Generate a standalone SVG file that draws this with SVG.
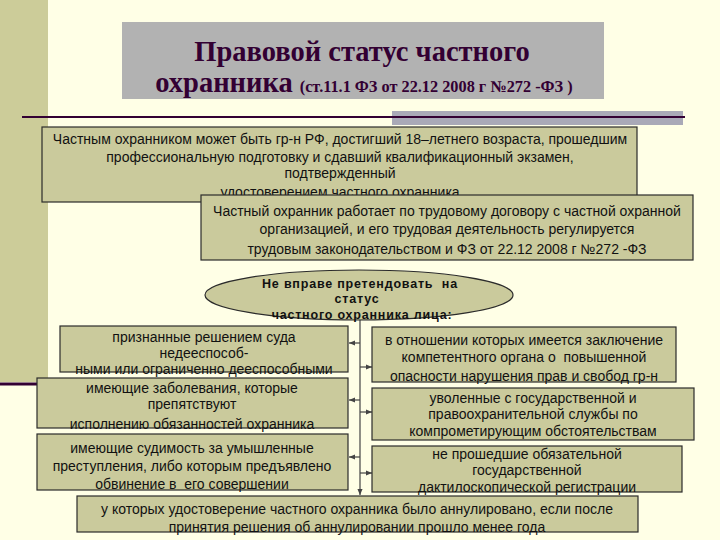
<svg xmlns="http://www.w3.org/2000/svg" width="720" height="540" viewBox="0 0 720 540">
<defs>
<style>
.bg{fill:#FFFFE6}
.band{fill:#CCCC99}
.box{fill:#CACA9C;stroke:#2b2b2b;stroke-width:1.2}
.t{font-family:"Liberation Sans",Arial,sans-serif;font-size:14px;fill:#111;text-anchor:middle}
.e{font-family:"Liberation Sans",Arial,sans-serif;font-size:12.5px;font-weight:bold;letter-spacing:0.8px;fill:#111;text-anchor:middle}
.ttl{font-family:"Liberation Serif","Times New Roman",serif;font-weight:bold;fill:#330033;text-anchor:middle}
.c{stroke:#444;stroke-width:1.2;fill:none}
</style>
<marker id="ah" viewBox="0 0 8 8" refX="7" refY="4" markerWidth="6" markerHeight="6" orient="auto">
<path d="M0,1 L7,4 L0,7 Z" fill="#444"/>
</marker>
</defs>
<rect class="bg" x="0" y="0" width="720" height="540"/>
<rect class="band" x="0" y="0" width="48" height="382"/>
<line x1="0" y1="384" x2="40" y2="384" stroke="#330033" stroke-width="3"/>

<g id="title">
<rect x="122" y="22" width="482" height="77" fill="#B2B2B2"/>
<text class="ttl" x="362" y="61" font-size="28.5">Правовой статус частного</text>
<text class="ttl" x="364" y="92"><tspan font-size="28.5">охранника</tspan><tspan font-size="16.3" dx="7">(ст.11.1 ФЗ от 22.12 2008 г №272 -ФЗ )</tspan></text>
</g>
<rect x="392" y="111" width="291" height="14" fill="#A9A9B7"/>
<line x1="22" y1="117" x2="685" y2="117" stroke="#330033" stroke-width="2"/>

<g id="box1">
<rect class="box" x="42" y="127" width="595" height="75"/>
<text class="t" x="340" y="144">Частным охранником может быть гр-н РФ, достигший 18–летнего возраста, прошедшим</text>
<text class="t" x="340" y="162">профессиональную подготовку и сдавший квалификационный экзамен,</text>
<text class="t" x="340" y="178">подтвержденный</text>
<text class="t" x="340" y="197">удостоверением частного охранника</text>
</g>
<g id="box2">
<rect class="box" x="201" y="195" width="492" height="65"/>
<text class="t" x="447" y="216">Частный охранник работает по трудовому договору с частной охранной</text>
<text class="t" x="447" y="234">организацией, и его трудовая деятельность регулируется</text>
<text class="t" x="447" y="254">трудовым законодательством и ФЗ от 22.12 2008 г №272 -ФЗ</text>
</g>

<g id="connectors">
<line class="c" x1="360" y1="320" x2="360" y2="495" marker-end="url(#ah)"/>
<line class="c" x1="360" y1="343" x2="349" y2="343" marker-end="url(#ah)"/>
<line class="c" x1="360" y1="400" x2="349" y2="400" marker-end="url(#ah)"/>
<line class="c" x1="360" y1="457" x2="349" y2="457" marker-end="url(#ah)"/>
<line class="c" x1="360" y1="367" x2="372" y2="367" marker-end="url(#ah)"/>
<line class="c" x1="360" y1="412" x2="372" y2="412" marker-end="url(#ah)"/>
<line class="c" x1="360" y1="473" x2="372" y2="473" marker-end="url(#ah)"/>
</g>

<g id="oval">
<ellipse class="box" cx="359" cy="295" rx="154" ry="25"/>
<text class="e" x="360" y="288" xml:space="preserve">Не вправе претендовать  на</text>
<text class="e" x="357" y="303">статус</text>
<text class="e" x="362" y="319">частного охранника лица:</text>
</g>

<g id="left1">
<rect class="box" x="60" y="326" width="288" height="46"/>
<text class="t" x="204" y="342">признанные решением суда</text>
<text class="t" x="204" y="358">недееспособ-</text>
<text class="t" x="204" y="374">ными или ограниченно дееспособными</text>
</g>
<g id="left2">
<rect class="box" x="37" y="378" width="311" height="50"/>
<text class="t" x="192" y="393">имеющие заболевания, которые</text>
<text class="t" x="192" y="409">препятствуют</text>
<text class="t" x="192" y="429">исполнению обязанностей охранника</text>
</g>
<g id="left3">
<rect class="box" x="37" y="434" width="311" height="56"/>
<text class="t" x="192" y="453">имеющие судимость за умышленные</text>
<text class="t" x="192" y="471">преступления, либо которым предъявлено</text>
<text class="t" x="192" y="489" xml:space="preserve">обвинение в  его совершении</text>
</g>
<g id="bottom">
<rect class="box" x="77" y="496" width="561" height="36"/>
<text class="t" x="357" y="514">у которых удостоверение частного охранника было аннулировано, если после</text>
<text class="t" x="357" y="532">принятия решения об аннулировании прошло менее года</text>
</g>
<g id="right1">
<rect class="box" x="372" y="327" width="304" height="55"/>
<text class="t" x="524" y="345">в отношении которых имеется заключение</text>
<text class="t" x="524" y="362" xml:space="preserve">компетентного органа о  повышенной</text>
<text class="t" x="524" y="381">опасности нарушения прав и свобод гр-н</text>
</g>
<g id="right2">
<rect class="box" x="372" y="388" width="322" height="52"/>
<text class="t" x="533" y="403">уволенные с государственной и</text>
<text class="t" x="533" y="419">правоохранительной службы по</text>
<text class="t" x="533" y="436">компрометирующим обстоятельствам</text>
</g>
<g id="right3">
<rect class="box" x="372" y="446" width="310" height="46"/>
<text class="t" x="527" y="459">не прошедшие обязательной</text>
<text class="t" x="527" y="475">государственной</text>
<text class="t" x="527" y="492">дактилоскопической регистрации</text>
</g>
</svg>
